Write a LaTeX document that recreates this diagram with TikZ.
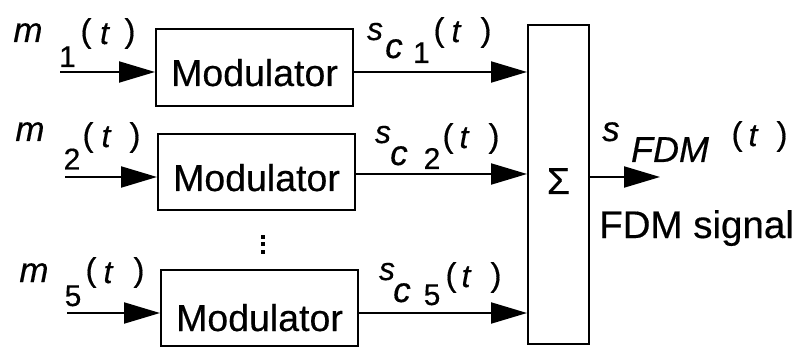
\documentclass[tikz,border=0pt]{standalone}
\usepackage{fontspec}
\setmainfont{Liberation Sans}[FakeBold=0.4]
\usetikzlibrary{arrows.meta}
\tikzset{
  blk/.style={draw, line width=2pt, inner sep=0pt, anchor=north west,
              font=\fontsize{37.5}{40}\selectfont},
  sig/.style={line width=2pt, -{Triangle[length=36pt,width=21pt]}},
  itl/.style={anchor=base, inner sep=0pt, font=\fontsize{35}{38}\selectfont\itshape},
  its/.style={anchor=base, inner sep=0pt, font=\fontsize{32}{35}\selectfont\itshape},
  dig/.style={anchor=base, inner sep=0pt, font=\fontsize{30}{33}\selectfont},
  par/.style={anchor=base, inner sep=0pt, font=\fontsize{33}{35}\selectfont},
  tvar/.style={anchor=base, inner sep=0pt, font=\fontsize{32}{35}\selectfont\itshape},
  dotmark/.style={fill=black},
}
\begin{document}
\begin{tikzpicture}[x=1pt,y=-1pt]
\useasboundingbox (0,0) rectangle (802,347);

% blocks
\node[blk, minimum width=197pt, text height=57pt, text depth=20pt] (mod1) at (155,28) {Modulator\hspace{8pt}};
\node[blk, minimum width=197pt, text height=57pt, text depth=19pt] (mod2) at (157,133) {Modulator\hspace{8pt}};
\node[blk, minimum width=197pt, text height=61pt, text depth=15pt] (mod5) at (160,269) {Modulator\hspace{5pt}};
\node[blk, minimum width=61pt, text height=169pt, text depth=150pt] (sum) at (527,24) {Σ};

% vertical dots
\fill[dotmark] (261,235) rectangle (265,239);
\fill[dotmark] (261,242) rectangle (265,246);
\fill[dotmark] (261,250) rectangle (265,254);

% inputs
\coordinate (in1) at (60,72);
\coordinate (in2) at (65,177);
\coordinate (in5) at (67,313);
\coordinate (y2) at (0,174);
\coordinate (out) at (660,177);
\draw[sig] (in1) -- (in1 -| mod1.west);
\draw[sig] (in2) -- (in2 -| mod2.west);
\draw[sig] (in5) -- (in5 -| mod5.west);
% outputs
\draw[sig] (mod1.east |- in1) -- (sum.west |- in1);
\draw[sig] (mod2.east |- y2) -- (sum.west |- y2);
\draw[sig] (mod5.east |- in5) -- (sum.west |- in5);
\draw[sig] (sum.east |- out) -- (out);

% label m1(t)
\node[itl] (m1m) at (28,42) {m};
\node[dig] (m1n) at (67.5,67) {1};
\node[par] (m1l) at (86,42) {(};
\node[tvar] (m1t) at (104.5,44) {t};
\node[par] (m1r) at (130,42) {)};
% label m2(t)
\node[itl] (m2m) at (30,141) {m};
\node[dig] (m2n) at (72,169.5) {2};
\node[par] (m2l) at (88,146) {(};
\node[tvar] (m2t) at (106,147) {t};
\node[par] (m2r) at (135,146) {)};
% label m5(t)
\node[itl] (m5m) at (34,282) {m};
\node[dig] (m5n) at (73,306) {5};
\node[par] (m5l) at (91,281) {(};
\node[tvar] (m5t) at (108,283) {t};
\node[par] (m5r) at (139,281) {)};

% label sc1(t)
\node[its] (s1s) at (375,40) {s};
\node[itl] (s1c) at (394,58) {c};
\node[dig] (s1n) at (421.5,63) {1};
\node[par] (s1l) at (439,41) {(};
\node[tvar] (s1t) at (456,42) {t};
\node[par] (s1r) at (486,41) {)};
% label sc2(t)
\node[its] (s2s) at (383,143) {s};
\node[itl] (s2c) at (399,165) {c};
\node[dig] (s2n) at (432,169) {2};
\node[par] (s2l) at (448,147) {(};
\node[tvar] (s2t) at (464,148) {t};
\node[par] (s2r) at (494,147) {)};
% label sc5(t)
\node[its] (s5s) at (387,280) {s};
\node[itl] (s5c) at (402,302) {c};
\node[dig] (s5n) at (432,305) {5};
\node[par] (s5l) at (451,286) {(};
\node[tvar] (s5t) at (466,287) {t};
\node[par] (s5r) at (496,286) {)};

% label sFDM(t)
\node[itl] (fs) at (611,141) {s};
\node[anchor=base, inner sep=0pt, font=\fontsize{36}{39}\selectfont\itshape] (ff) at (670,162) {FDM};
\node[par] (fl) at (737,145) {(};
\node[tvar] (ft) at (753,146) {t};
\node[par] (fr) at (782,145) {)};

\node[anchor=base west, inner sep=0pt, font=\fontsize{38.5}{41}\selectfont] (fdmtxt) at (599,238) {FDM signal};
\end{tikzpicture}
\end{document}
